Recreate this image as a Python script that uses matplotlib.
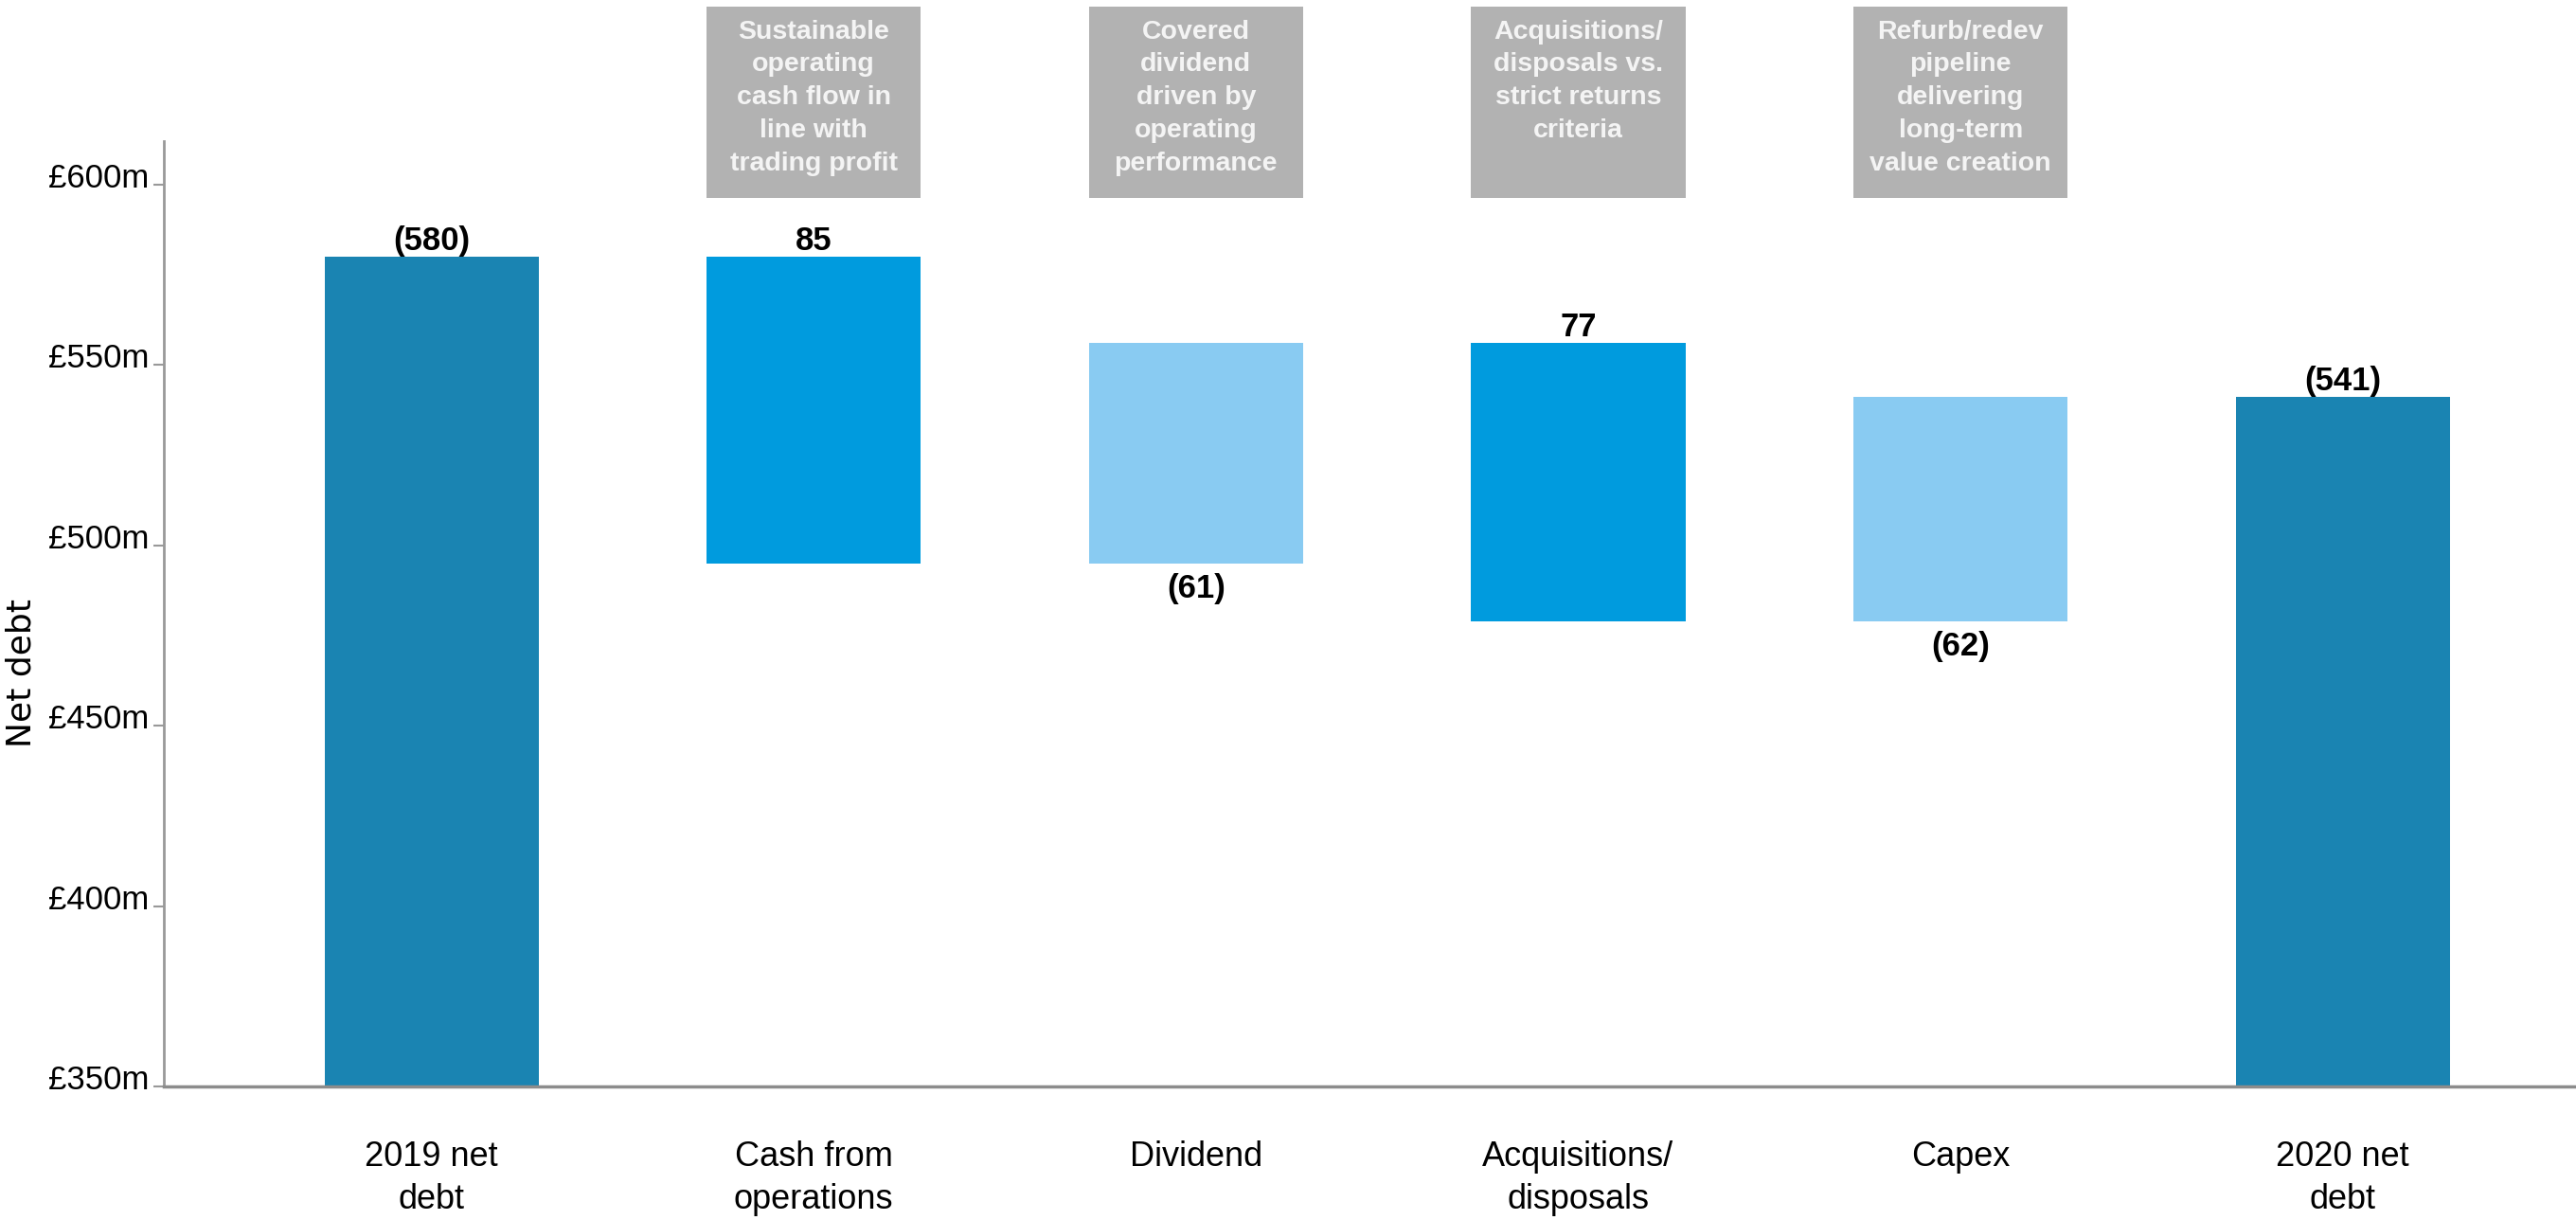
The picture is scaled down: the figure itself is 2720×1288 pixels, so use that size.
import matplotlib
matplotlib.use('Agg')
import matplotlib.pyplot as plt
import matplotlib.transforms as mtransforms
from matplotlib import font_manager as fm
import numpy as np

plt.rcParams['font.family'] = ['Liberation Sans', 'DejaVu Sans']

# waterfall data (GBP m)
categories = ['2019 net\ndebt', 'Cash from\noperations', 'Dividend',
              'Acquisitions/\ndisposals', 'Capex', '2020 net\ndebt']
start_debt = 580
changes = [-85, 61, -77, 62]
end_debt = 541
value_labels = ['(580)', '85', '(61)', '77', '(62)', '(541)']
notes = ['Sustainable\noperating\ncash flow in\nline with\ntrading profit',
         'Covered\ndividend\ndriven by\noperating\nperformance',
         'Acquisitions/\ndisposals vs.\nstrict returns\ncriteria',
         'Refurb/redev\npipeline\ndelivering\nlong-term\nvalue creation']
note_cols = [1, 2, 3, 4]
yticks = [350, 400, 450, 500, 550, 600]

c_total = '#1A84B2'
c_down = '#009BDE'
c_up = '#89CBF2'


def has_font(name):
    try:
        fm.findfont(fm.FontProperties(family=name), fallback_to_default=False)
        return True
    except ValueError:
        return False


# the reference text looks tall and narrow -> use a narrow face at a bigger size if we have it
if has_font('Liberation Sans Narrow'):
    tall = ['Liberation Sans Narrow', 'Liberation Sans', 'DejaVu Sans']
    k = 1.2
    ls_cat, ls_note = 1.15, 1.2
else:
    tall = ['Liberation Sans', 'DejaVu Sans']
    k = 1.0
    ls_cat, ls_note = 1.38, 1.44

# build bar bottoms / heights
bottoms = [0]
heights = [start_debt]
colors = [c_total]
level = start_debt
for ch in changes:
    new = level + ch
    bottoms.append(min(level, new))
    heights.append(abs(ch))
    colors.append(c_down if ch < 0 else c_up)
    level = new
bottoms.append(0)
heights.append(end_debt)
colors.append(c_total)

x = np.arange(len(categories))

fig = plt.figure(figsize=(27.2, 12.88), dpi=100)
ax = fig.add_axes([0.0636, 0.1095, 0.9364, 0.7748])

ax.bar(x, heights, bottom=bottoms, width=0.56, color=colors)

ax.set_ylim(350, 612)
ax.set_xlim(-0.70, 5.61)

# value labels: above for totals and debt reductions, below for additions
px = 1 / 100
for i in range(len(x)):
    top = bottoms[i] + heights[i]
    if i == 0 or i == len(x) - 1 or changes[i - 1] < 0:
        off = mtransforms.ScaledTranslation(0, 7 * px, fig.dpi_scale_trans)
        ax.text(x[i], top, value_labels[i], ha='center', va='baseline',
                fontsize=25, fontweight='bold', transform=ax.transData + off)
    else:
        off = mtransforms.ScaledTranslation(0, -10 * px, fig.dpi_scale_trans)
        ax.text(x[i], bottoms[i], value_labels[i], ha='center', va='top',
                fontsize=25, fontweight='bold', transform=ax.transData + off)

# grey comment boxes above the bars
blend = mtransforms.blended_transform_factory(ax.transData, fig.transFigure)
for col, note in zip(note_cols, notes):
    rect = plt.Rectangle((x[col] - 0.28, 0.8377), 0.56, 0.1569, transform=blend,
                         facecolor='#B2B2B2', edgecolor='none', clip_on=False)
    ax.add_patch(rect)
    ax.text(x[col], 0.984, note, transform=blend, ha='center', va='top',
            fontsize=20.5 * k, fontweight='bold', color='#F4F4F4',
            linespacing=ls_note, family=tall, clip_on=False)

# axes styling
for s in ['top', 'right']:
    ax.spines[s].set_visible(False)
ax.spines['left'].set_color('#999999')
ax.spines['left'].set_linewidth(2)
ax.spines['bottom'].set_color('#8C8C8C')
ax.spines['bottom'].set_linewidth(2.5)

ax.set_yticks(yticks)
ax.set_yticklabels(['£%dm' % v for v in yticks], family=tall)
ax.tick_params(axis='y', length=8, width=1.5, color='#999999', labelsize=25 * k, pad=3.5)
lift = mtransforms.ScaledTranslation(0, 10 * px, fig.dpi_scale_trans)
for lab in ax.get_yticklabels():
    lab.set_transform(lab.get_transform() + lift)

ax.set_xticks(x)
ax.set_xticklabels(categories, linespacing=ls_cat, family=tall)
ax.tick_params(axis='x', length=0, labelsize=26 * k, pad=41)

fig.text(0.0082, 0.448, 'Net debt', rotation=90, ha='center', va='center',
         fontsize=26, family='DejaVu Sans')

fig.savefig('out.png', dpi=100)
